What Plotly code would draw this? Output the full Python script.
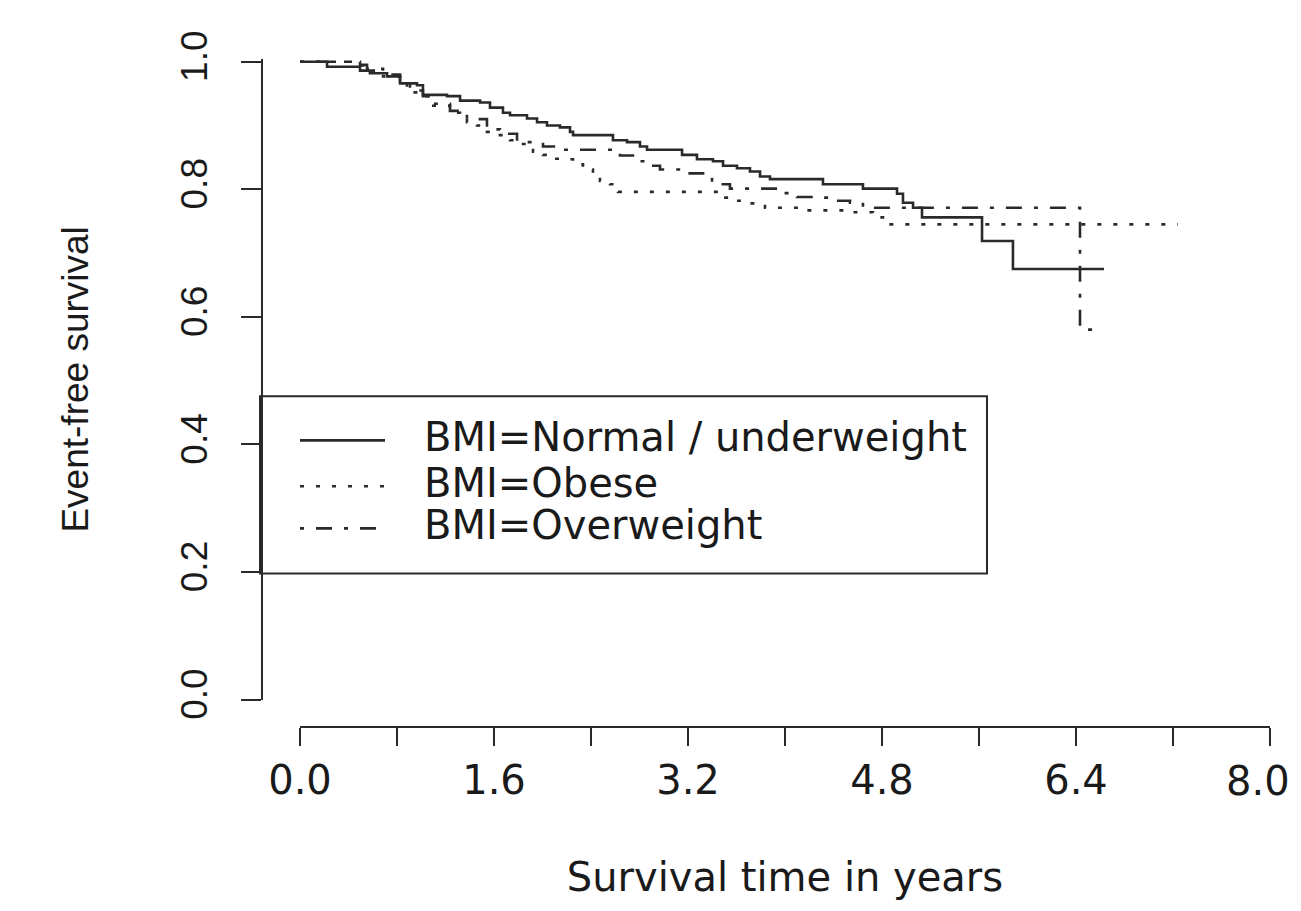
import plotly.graph_objects as go

# ---- data ----
normal_t = [0, 0.223, 0.495, 0.577, 0.718, 0.825, 0.965, 1.014, 1.212, 1.320, 1.485, 1.567, 1.674, 1.732, 1.872,
            1.955, 2.037, 2.144, 2.227, 2.252, 2.581, 2.697, 2.804, 2.862, 3.151, 3.274, 3.406, 3.489, 3.604, 3.711,
            3.794, 3.876, 4.313, 4.643, 4.924, 4.973, 5.056, 5.130, 5.625, 5.880, 6.631]
normal_s = [1.000, 0.992, 0.986, 0.982, 0.977, 0.966, 0.963, 0.948, 0.946, 0.939, 0.936, 0.928, 0.920, 0.916, 0.911,
            0.905, 0.900, 0.897, 0.890, 0.885, 0.877, 0.874, 0.867, 0.862, 0.854, 0.847, 0.844, 0.837, 0.833, 0.828,
            0.820, 0.816, 0.808, 0.801, 0.793, 0.779, 0.771, 0.756, 0.719, 0.675, 0.675]

obese_t = [0, 0.454, 0.553, 0.685, 0.825, 0.882, 1.014, 1.072, 1.237, 1.320, 1.377, 1.460, 1.542, 1.649, 1.732,
           1.790, 1.922, 2.004, 2.087, 2.169, 2.252, 2.334, 2.416, 2.474, 2.557, 2.623, 3.480, 3.571, 3.654, 3.835,
           4.124, 4.511, 4.726, 4.808, 7.241]
obese_s = [1.000, 0.994, 0.986, 0.977, 0.966, 0.952, 0.946, 0.931, 0.920, 0.916, 0.905, 0.900, 0.890, 0.885, 0.877,
           0.871, 0.859, 0.854, 0.848, 0.847, 0.839, 0.831, 0.825, 0.813, 0.808, 0.796, 0.787, 0.782, 0.778, 0.771,
           0.767, 0.764, 0.756, 0.745, 0.745]

over_t = [0, 0.495, 0.553, 0.685, 0.825, 0.907, 1.014, 1.072, 1.237, 1.377, 1.542, 1.649, 1.790, 2.004, 2.169,
          2.639, 2.746, 2.788, 2.870, 2.969, 3.175, 3.340, 3.398, 3.546, 3.959, 4.099, 4.231, 4.396, 4.536, 4.643,
          6.433, 6.598]
over_s = [1.000, 0.995, 0.989, 0.980, 0.969, 0.955, 0.946, 0.934, 0.923, 0.910, 0.894, 0.887, 0.874, 0.867, 0.862,
          0.853, 0.848, 0.844, 0.837, 0.831, 0.825, 0.822, 0.808, 0.801, 0.794, 0.788, 0.787, 0.782, 0.779, 0.771,
          0.580, 0.580]

series_names = ["BMI=Normal / underweight", "BMI=Obese", "BMI=Overweight"]
x_tickvals = [0, 0.8, 1.6, 2.4, 3.2, 4.0, 4.8, 5.6, 6.4, 7.2, 8.0]
x_ticktext = ["0.0", "", "1.6", "", "3.2", "", "4.8", "", "6.4", "", ""]
x_last_label = "8.0"   # drawn as text at the right edge (it touches the page border)
y_tickvals = [0, 0.2, 0.4, 0.6, 0.8, 1.0]
y_ticktext = ["0.0", "0.2", "0.4", "0.6", "0.8", "1.0"]

# ---- layout geometry (pixels) ----
OFF = 8                                  # page body margin
W, H = 1301 - 2 * OFF, 911 - 2 * OFF
L, R, T, B = 262 - OFF, 12, 40 - OFF, 170
PW, PH = W - L - R, H - T - B
YTOP_EXTRA = 0.004


def px(xp):
    return (xp - OFF - L) / PW


def py(yp):
    return (H - B - (yp - OFF)) / PH


FONT_H = "DejaVu Sans, sans-serif"
FONT_V = "Liberation Sans, Arial, sans-serif"
TXT = "#1a1a1a"
LINE = "#2a2a2a"
FS = 40
FSV = 37

dashes = ["solid", "4px,12px", "4px,12px,16px,12px"]

fig = go.Figure()
for t, s, name, d in zip([normal_t, obese_t, over_t], [normal_s, obese_s, over_s], series_names, dashes):
    fig.add_trace(go.Scatter(x=t, y=s, mode="lines", name=name, line=dict(shape="hv", color=LINE, width=2.6, dash=d),
                             showlegend=False, hoverinfo="skip"))

fig.update_layout(
    width=W, height=H, autosize=False,
    margin=dict(l=L, r=R, t=T, b=B, pad=0),
    paper_bgcolor="white", plot_bgcolor="white",
    font=dict(family=FONT_H, size=FS, color=TXT),
    xaxis=dict(domain=[px(300), px(1270)], range=[0, 8], anchor="free", position=0,
               showgrid=False, zeroline=False, showline=True, linecolor=LINE, linewidth=2,
               ticks="outside", ticklen=18, tickwidth=2, tickcolor=LINE,
               tickvals=x_tickvals, ticktext=x_ticktext, tickfont=dict(family=FONT_H, size=FS, color=TXT),
               title=dict(text="Survival time in years", font=dict(family=FONT_H, size=FS, color=TXT), standoff=60)),
    yaxis=dict(domain=[py(705), py(53 - YTOP_EXTRA * 652)], range=[0, 1 + YTOP_EXTRA], anchor="free", position=0,
               showgrid=False, zeroline=False, showline=True, linecolor=LINE, linewidth=2,
               ticks="outside", ticklen=20, tickwidth=2, tickcolor=LINE, ticklabelstandoff=19,
               tickvals=y_tickvals, ticktext=y_ticktext, tickangle=-90,
               tickfont=dict(family=FONT_V, size=FSV, color=TXT),
               title=dict(text="Event-free survival", font=dict(family=FONT_V, size=FSV, color=TXT), standoff=73)),
)

fig.add_annotation(text=x_last_label, xref="paper", yref="paper", x=px(1292), y=py(788), xanchor="right",
                   yanchor="middle", showarrow=False, font=dict(family=FONT_H, size=FS, color=TXT))

# ---- legend box drawn like R's legend() ----
fig.add_shape(type="rect", xref="paper", yref="paper", x0=px(260), x1=px(987), y0=py(576), y1=py(395),
              line=dict(color=LINE, width=2), fillcolor="rgba(0,0,0,0)", layer="above")
legend_y = [440, 487, 530]
for name, d, yy in zip(series_names, dashes, legend_y):
    fig.add_shape(type="line", xref="paper", yref="paper", x0=px(300), x1=px(385), y0=py(yy), y1=py(yy),
                  line=dict(color=LINE, width=2.6, dash=d))
    fig.add_annotation(text=name, xref="paper", yref="paper", x=px(422), y=py(yy - 3), xanchor="left",
                       yanchor="middle", showarrow=False, font=dict(family=FONT_H, size=FS, color=TXT))

fig.write_html("out.html", config={"responsive": False})
